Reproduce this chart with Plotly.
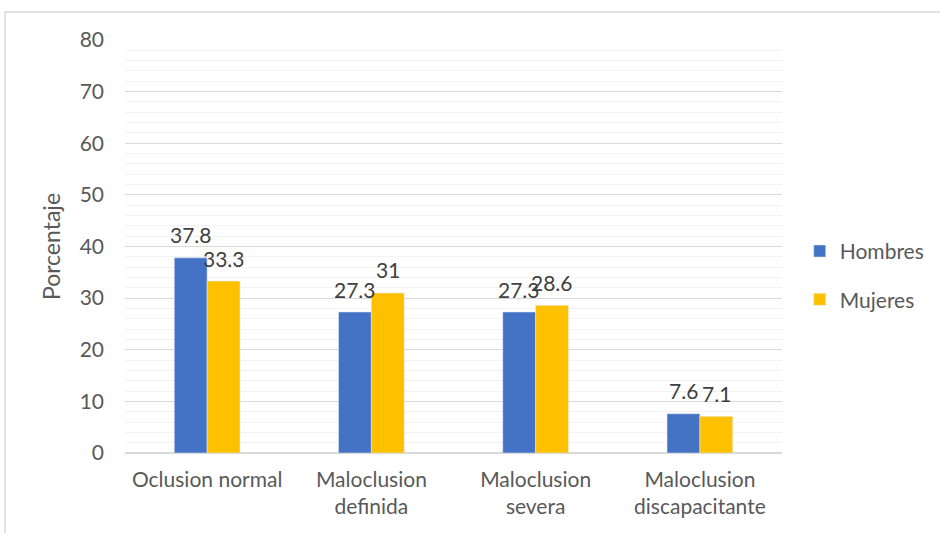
import plotly.graph_objects as go

categories = ["Oclusion normal", "Maloclusion<br>definida", "Maloclusion<br>severa", "Maloclusion<br>discapacitante"]
hombres = [37.8, 27.3, 27.3, 7.6]
mujeres = [33.3, 31, 28.6, 7.1]
y_ticks = [0, 10, 20, 30, 40, 50, 60, 70, 80]

FONT = "Lato"
TEXT = "#595959"

fig = go.Figure()
fig.add_trace(go.Bar(name="Hombres", x=categories, y=hombres, marker_color="#4472C4",
                     legendgroup="h", offsetgroup="h"))
fig.add_trace(go.Bar(name="Mujeres", x=categories, y=mujeres, marker_color="#FFC000",
                     legendgroup="m", offsetgroup="m"))

# value labels above each bar
for vals, shift in ((hombres, -0.1), (mujeres, 0.1)):
    for i, v in enumerate(vals):
        fig.add_annotation(x=i + shift, y=v, text=f"{v:g}", showarrow=False,
                           xref="x", yref="y", yshift=23,
                           font=dict(family=FONT, size=21, color="#404040"))

fig.update_layout(
    width=940, height=533,
    margin=dict(l=125, r=158, t=40, b=80, autoexpand=False),
    paper_bgcolor="white", plot_bgcolor="white",
    barmode="group", bargap=0.6, bargroupgap=0,
    font=dict(family=FONT, size=20, color=TEXT),
    showlegend=True,
    legend=dict(x=1.027, y=0.43, xanchor="left", yanchor="middle",
                font=dict(family=FONT, size=21, color=TEXT),
                tracegroupgap=18, bgcolor="rgba(0,0,0,0)"),
    xaxis=dict(type="category", showgrid=False, ticks="", showline=False,
               ticklabelstandoff=12,
               tickfont=dict(family=FONT, size=21, color=TEXT)),
    yaxis=dict(range=[0, 80], tickvals=y_ticks, showgrid=True, gridcolor="#d9d9d9",
               gridwidth=1, zeroline=True, zerolinecolor="#d9d9d9", zerolinewidth=1.5,
               ticks="", ticklabelstandoff=20,
               tickfont=dict(family=FONT, size=21, color=TEXT),
               minor=dict(dtick=2, showgrid=True, gridcolor="#f2f2f2", gridwidth=1),
               title=dict(text="Porcentaje", standoff=12,
                          font=dict(family=FONT, size=23, color=TEXT))),
    shapes=[dict(type="rect", xref="paper", yref="paper",
                 x0=-0.1826, x1=1.3, y0=-0.3, y1=1.0678,
                 line=dict(color="#d9d9d9", width=1.5), fillcolor="rgba(0,0,0,0)",
                 layer="below")],
)

fig.write_html("out.html")
